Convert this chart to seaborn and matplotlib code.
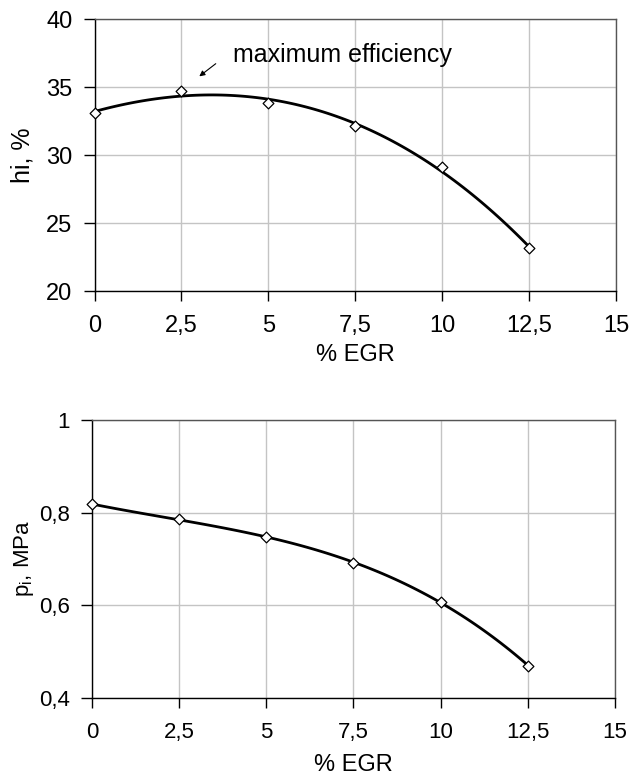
import numpy as np
import pandas as pd
import matplotlib.pyplot as plt
import seaborn as sns
from matplotlib.ticker import FixedLocator

# data
egr = [0, 2.5, 5, 7.5, 10, 12.5]
eff = [33.07, 34.73, 33.8, 32.13, 29.1, 23.14]
pi_mpa = [0.818, 0.786, 0.747, 0.691, 0.608, 0.470]

x_ticks = [0, 2.5, 5, 7.5, 10, 12.5, 15]
x_ticklabels = ["0", "2,5", "5", "7,5", "10", "12,5", "15"]
y1_ticks = [20, 25, 30, 35, 40]
y1_ticklabels = ["20", "25", "30", "35", "40"]
y2_ticks = [0.4, 0.6, 0.8, 1.0]
y2_ticklabels = ["0,4", "0,6", "0,8", "1"]

sns.set_style("white")
plt.rcParams["font.family"] = ["Liberation Sans", "DejaVu Sans"]
plt.rcParams["mathtext.fontset"] = "custom"
plt.rcParams["mathtext.rm"] = "Liberation Sans"
plt.rcParams["mathtext.it"] = "Liberation Sans"
plt.rcParams["text.color"] = "black"
plt.rcParams["axes.labelcolor"] = "black"
plt.rcParams["xtick.color"] = "black"
plt.rcParams["ytick.color"] = "black"

df = pd.DataFrame({"egr": egr, "eff": eff, "pi": pi_mpa})

fig = plt.figure(figsize=(6.31, 7.79), dpi=100)
ax1 = fig.add_axes([0.1498, 0.6264, 0.8265, 0.3492])
ax2 = fig.add_axes([0.1458, 0.1040, 0.8288, 0.3569])


def style_axis(ax, yticks, yticklabels, ylim, ylabel, fs_tick, fs_lab,
               ylab_x, xlab_y, xpad):
    ax.set_xlim(0, 15)
    ax.set_ylim(*ylim)
    ax.xaxis.set_major_locator(FixedLocator(x_ticks))
    ax.set_xticklabels(x_ticklabels)
    ax.yaxis.set_major_locator(FixedLocator(yticks))
    ax.set_yticklabels(yticklabels)
    ax.grid(True, color="#c4c4c4", linewidth=1.0)
    ax.set_axisbelow(True)
    for s in ["left", "bottom"]:
        ax.spines[s].set_color("black")
        ax.spines[s].set_linewidth(1.0)
    for s in ["top", "right"]:
        ax.spines[s].set_color("#555555")
        ax.spines[s].set_linewidth(1.0)
    ax.tick_params(axis="x", direction="out", length=7, width=1, color="black",
                   labelsize=fs_tick, pad=xpad, bottom=True)
    ax.tick_params(axis="y", direction="out", length=8, width=1, color="black",
                   labelsize=fs_tick, pad=8, left=True)
    ax.set_xlabel("% EGR", fontsize=17, va="center")
    ax.set_ylabel(ylabel, fontsize=fs_lab, va="center")
    ax.xaxis.set_label_coords(0.5, xlab_y)
    ax.yaxis.set_label_coords(ylab_x, 0.5)


sns.regplot(data=df, x="egr", y="eff", order=3, ci=None, scatter=False, ax=ax1,
            line_kws={"color": "black", "linewidth": 2.0})
sns.scatterplot(data=df, x="egr", y="eff", marker="D", s=30, facecolor="white",
                edgecolor="black", linewidth=0.9, ax=ax1, zorder=5, clip_on=False)
style_axis(ax1, y1_ticks, y1_ticklabels, (20, 40), "hi, %", 17, 18,
           -0.139, -0.235, 10.5)
ax1.annotate("", xy=(2.95, 35.66), xytext=(3.55, 36.84),
             arrowprops=dict(arrowstyle="-|>", color="black", lw=0.8,
                             mutation_scale=8))
ax1.text(3.99, 37.35, "maximum efficiency", fontsize=18, va="center", ha="left")

sns.regplot(data=df, x="egr", y="pi", order=3, ci=None, scatter=False, ax=ax2,
            line_kws={"color": "black", "linewidth": 2.0})
sns.scatterplot(data=df, x="egr", y="pi", marker="D", s=30, facecolor="white",
                edgecolor="black", linewidth=0.9, ax=ax2, zorder=5, clip_on=False)
style_axis(ax2, y2_ticks, y2_ticklabels, (0.4, 1.0), r"p$_\mathregular{i}$, MPa",
           16, 16, -0.130, -0.241, 10)

fig.savefig("out.png", dpi=100)
